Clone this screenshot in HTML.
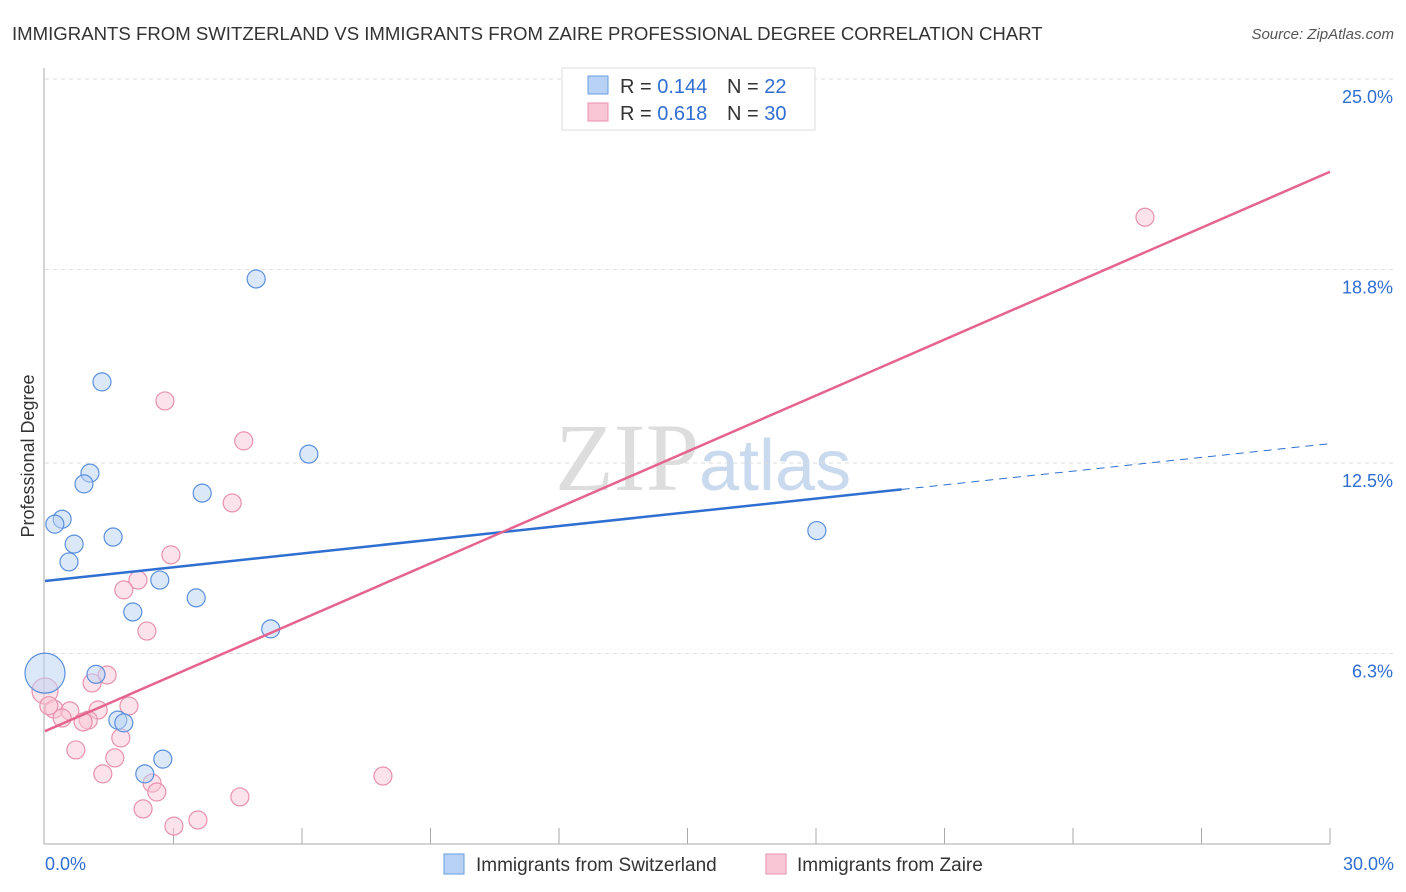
<!DOCTYPE html>
<html><head><meta charset="utf-8"><style>
body{margin:0;background:#fff;font-family:"Liberation Sans",sans-serif;}
svg{display:block}
</style></head><body>
<svg width="1406" height="892" xmlns="http://www.w3.org/2000/svg">
<text x="12" y="40" font-size="18.6" fill="#333">IMMIGRANTS FROM SWITZERLAND VS IMMIGRANTS FROM ZAIRE PROFESSIONAL DEGREE CORRELATION CHART</text>
<text x="1394" y="39" font-size="15" fill="#555" font-style="italic" text-anchor="end">Source: ZipAtlas.com</text>
<text x="555" y="490" font-size="96" fill="#ddd" font-family="Liberation Serif">ZIP<tspan fill="#c9d9ee" font-family="Liberation Sans" font-size="72">atlas</tspan></text>
<g id="grid"></g><g id="axes"></g><g id="marks"></g>
<text x="34" y="456" font-size="18" fill="#333" text-anchor="middle" transform="rotate(-90 34 456)">Professional Degree</text>
<g>
<rect x="562" y="68" width="253" height="62" fill="#fff" stroke="#ddd"/>
<rect x="588" y="76" width="20" height="18" fill="#b8d2f5" stroke="#6a9ee0"/>
<text x="620" y="93" font-size="20" fill="#333">R = <tspan fill="#2f6fd1">0.144</tspan></text>
<text x="727" y="93" font-size="20" fill="#333">N = <tspan fill="#2f6fd1">22</tspan></text>
<rect x="588" y="103" width="20" height="18" fill="#f9c6d5" stroke="#e891ae"/>
<text x="620" y="120" font-size="20" fill="#333">R = <tspan fill="#2f6fd1">0.618</tspan></text>
<text x="727" y="120" font-size="20" fill="#333">N = <tspan fill="#2f6fd1">30</tspan></text>
</g>
<g>
<rect x="444" y="854" width="20" height="20" fill="#b8d2f5" stroke="#6a9ee0"/>
<text x="476" y="871" font-size="19" fill="#333">Immigrants from Switzerland</text>
<rect x="766" y="854" width="20" height="20" fill="#f9c6d5" stroke="#e891ae"/>
<text x="797" y="871" font-size="19" fill="#333">Immigrants from Zaire</text>
</g>
</svg>
<script>
const yTicks=[25,18.8,12.5,6.3];
const yTickLabels=["25.0%","18.8%","12.5%","6.3%"];
const xTickLabels=["0.0%","30.0%"];
const swissX=[4.93,1.33,6.16,1.05,0.91,3.67,0.40,0.23,1.59,0.68,0.56,2.68,3.53,2.05,5.27,18.02,0,1.19,1.70,1.84,2.75,2.33];
const swissY=[18.49,15.14,12.79,12.17,11.82,11.52,10.67,10.51,10.09,9.86,9.28,8.69,8.11,7.65,7.10,10.30,5.66,5.62,4.13,4.04,2.86,2.38];
const zaireX=[25.68,2.80,4.64,4.37,2.94,2.17,1.84,2.38,1.45,1.10,0,0.21,0.58,1.24,1.96,0.40,1.01,0.89,1.77,0.72,1.63,1.35,2.50,2.61,4.55,7.89,2.29,3.01,3.57,0.09];
const zaireY=[20.50,14.52,13.22,11.20,9.51,8.69,8.37,7.03,5.60,5.34,5.08,4.49,4.43,4.46,4.59,4.20,4.13,4.07,3.55,3.16,2.90,2.38,2.08,1.79,1.63,2.31,1.24,0.68,0.88,4.60];
const swissTrend=[8.66,0.149]; // intercept, slope
const zaireTrend=[3.77,0.607];
const X=v=>45+v/30*1285, Y=v=>847-v*30.72;
const NS="http://www.w3.org/2000/svg";
function mk(p,t,a){const e=document.createElementNS(NS,t);for(const k in a)e.setAttribute(k,a[k]);document.getElementById(p).appendChild(e);return e;}
yTicks.forEach((t,i)=>{
 const l=mk('grid','line',{x1:45,x2:1394,y1:Y(t),y2:Y(t),stroke:'#ddd','stroke-dasharray':'4,4'});
 
 
 const tx=mk('axes','text',{x:1393,y:Y(t)+24,'font-size':18,fill:'#2f6fd1','text-anchor':'end'});
 tx.textContent=yTickLabels[i];
 
 
});
let a=mk('axes','line',{x1:44,x2:44,y1:68,y2:844,stroke:'#aaa'});


a=mk('axes','line',{x1:44,x2:1330,y1:844,y2:844,stroke:'#aaa'});


for(let i=1;i<=10;i++){const t=mk('axes','line',{x1:X(i*3),x2:X(i*3),y1:828,y2:844,stroke:'#aaa'});
 
 }
[[0,'start',45],[30,'end',1394]].forEach((d,i)=>{const t=mk('axes','text',{x:d[2],y:870,'font-size':18,fill:'#2f6fd1','text-anchor':d[1]});
 t.textContent=xTickLabels[i];
 
 });
function pts(xs,ys,fill,stroke,name){xs.forEach((x,i)=>{const r=(x===0&&name==='swiss-point')?20:(x===0?13:9);
 const c=mk('marks','circle',{cx:X(x),cy:Y(ys[i]),r:r,fill:fill,'fill-opacity':0.5,stroke:stroke,'stroke-width':1.2});
 
 });}
pts(zaireX,zaireY,'#f9c6d5','#e891ae','zaire-point');
pts(swissX,swissY,'#b8d2f5','#5a8fdc','swiss-point');
let l=mk('marks','line',{x1:X(0),y1:Y(swissTrend[0]),x2:X(20),y2:Y(swissTrend[0]+20*swissTrend[1]),stroke:'#2f6fd1','stroke-width':2.5});


l=mk('marks','line',{x1:X(20),y1:Y(swissTrend[0]+20*swissTrend[1]),x2:X(30),y2:Y(swissTrend[0]+30*swissTrend[1]),stroke:'#2f6fd1','stroke-width':1,'stroke-dasharray':'8,6'});


l=mk('marks','line',{x1:X(0),y1:Y(zaireTrend[0]),x2:X(30),y2:Y(zaireTrend[0]+30*zaireTrend[1]),stroke:'#e5648e','stroke-width':2.5});


</script>
</body></html>
